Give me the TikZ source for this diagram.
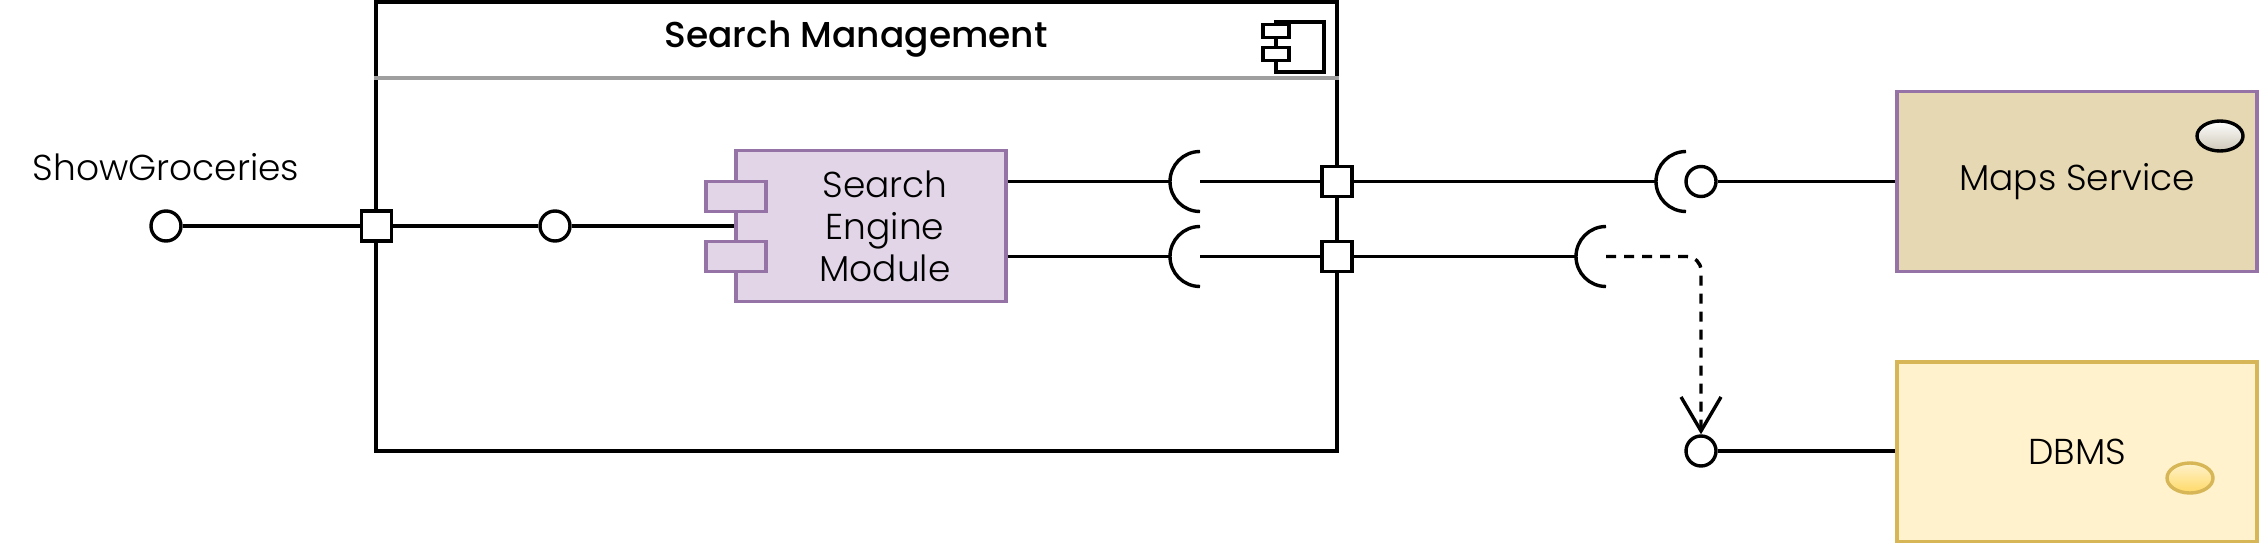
\documentclass[tikz,border=0pt]{standalone}
\usepackage{fontspec}
\setmainfont{Poppins Light}
\newfontfamily\titlefont{Poppins Medium}
\usetikzlibrary{positioning, arrows.meta, calc, shapes.geometric}

\definecolor{modfill}{HTML}{E1D5E7}
\definecolor{modline}{HTML}{9673A6}
\definecolor{mapsfill}{RGB}{230,216,178}
\definecolor{dbfill}{HTML}{FFF2CC}
\definecolor{dbline}{HTML}{D6B656}
\definecolor{dbdot}{HTML}{FFD966}
\definecolor{mapsdot}{RGB}{205,199,182}

\begin{document}
\begin{tikzpicture}[
  x=1pt, y=-1pt,
  font=\fontsize{36}{42}\selectfont,
  line width=3.4pt,
  % Estilos de componentes
  container/.style={draw, rectangle, minimum width=961pt, minimum height=449pt, inner sep=0pt},
  modbox/.style={draw=modline, fill=modfill, rectangle, minimum width=270pt, minimum height=151pt, inner sep=0pt},
  tab/.style={draw=modline, fill=modfill, rectangle, minimum width=60pt, minimum height=30pt, inner sep=0pt},
  icontab/.style={draw, fill=white, rectangle, minimum width=26pt, minimum height=13pt, inner sep=0pt},
  box/.style={draw, rectangle, minimum width=360pt, minimum height=180pt, inner sep=0pt},
  % Estilos de puertos e interfaces
  port/.style={draw, rectangle, fill=white, minimum size=30pt, inner sep=0pt},
  iface/.style={draw, circle, fill=white, minimum size=30pt, inner sep=0pt},
  dot/.style={ellipse, minimum width=46pt, minimum height=30pt, inner sep=0pt},
  % Estilos de flechas
  wire/.style={draw, black},
  uses/.style={draw, dash pattern=on 10pt off 8pt, rounded corners=14pt, -{Straight Barb[length=34pt, width=40pt]}}
]
  \useasboundingbox (0,0) rectangle (2259,543);

  % ==========================================
  % SEARCH MANAGEMENT CONTAINER
  % ==========================================
  \node[container] (mgmt) at (856.5,226.5) {};
  \draw[gray!75] (mgmt.west |- 0,78) -- (mgmt.east |- 0,78);
  \node[font=\titlefont\fontsize{36}{42}\selectfont] (mgmtTitle) at (856,39) {Search Management};

  % Component icon
  \node[draw, rectangle, minimum width=48pt, minimum height=50pt, inner sep=0pt] (icon) at (1300,47) {};
  \node[icontab] (iconTabA) at (1276,31) {};
  \node[icontab] (iconTabB) at (1276,54) {};

  % Search engine module
  \node[modbox] (engine) at (871,226) {};
  \node[tab] (engTabA) at (736,196.5) {};
  \node[tab] (engTabB) at (736,256.5) {};
  \node[align=center] (engLabel) at (885,226) {Search\\Engine\\Module};

  % ==========================================
  % PROVIDED INTERFACE (ShowGroceries)
  % ==========================================
  \node (sgLabel) at (166,167) {ShowGroceries};
  \node[iface] (sgIf) at (166,226) {};
  \node[iface] (engIf) at (555,226) {};
  \node[port] (portIn) at (376.5,226) {};
  \draw[wire] (sgIf) -- (portIn) -- (engIf) -- (engIf -| engine.west);

  % ==========================================
  % REQUIRED INTERFACES
  % ==========================================
  \coordinate (sockA) at (1200,181.5);
  \coordinate (sockB) at (1200,256.5);
  \coordinate (sockC) at (1686,181.5);
  \coordinate (sockD) at (1606,256.5);
  \foreach \s in {sockA, sockB, sockC, sockD}
    \draw ([yshift=30pt]\s) arc[start angle=90, end angle=270, radius=30pt];

  \node[port] (portA) at (1337,181.5) {};
  \node[port] (portB) at (1337,256.5) {};

  \draw[wire] (engine.east |- sockA) -- ([xshift=-30pt]sockA);
  \draw[wire] (engine.east |- sockB) -- ([xshift=-30pt]sockB);
  \draw[wire] (sockA) -- (portA) -- ([xshift=-30pt]sockC);
  \draw[wire] (sockB) -- (portB) -- ([xshift=-30pt]sockD);

  % ==========================================
  % EXTERNAL COMPONENTS
  % ==========================================
  \node[box, draw=modline, fill=mapsfill] (maps) at (2077,181.5) {Maps Service};
  \node[dot, draw=black, top color=white, bottom color=mapsdot] (mapsDot) at (2220,136) {};
  \node[iface] (mapsIf) at (1701,181.5) {};
  \draw[wire] (mapsIf) -- (mapsIf -| maps.west);

  \node[box, draw=dbline, fill=dbfill] (dbms) at (2077,452) {DBMS};
  \node[dot, draw=dbline, top color=dbfill, bottom color=dbdot] (dbDot) at (2190,478) {};
  \node[iface] (dbIf) at (1701,451) {};
  \draw[wire] (dbIf) -- (dbIf -| dbms.west);

  \draw[uses] (sockD) -| (dbIf.north);

\end{tikzpicture}
\end{document}
